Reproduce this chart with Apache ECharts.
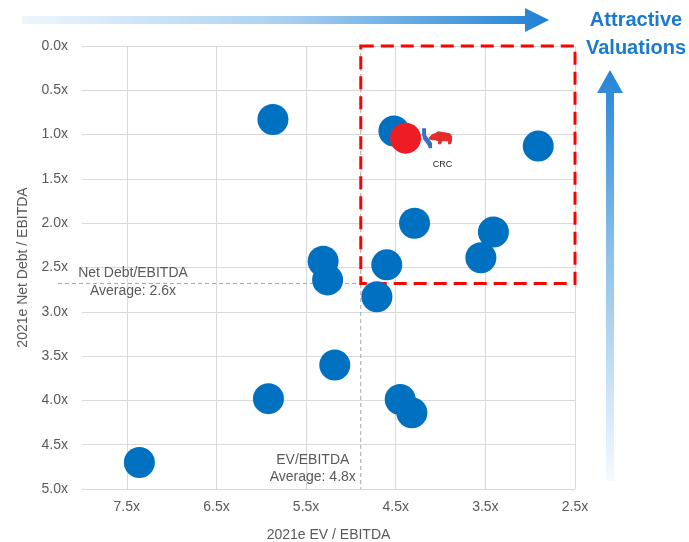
<!DOCTYPE html>
<html><head><meta charset="utf-8">
<script src="https://cdn.jsdelivr.net/npm/echarts/dist/echarts.min.js"></script>
<style>html,body{margin:0;padding:0;background:#fff}#c{width:689px;height:542px}</style>
</head><body><div id="c"></div>
<script>
// ---- data ----
const xTickLabels = [7.5, 6.5, 5.5, 4.5, 3.5, 2.5];
const peerEV = [5.87, 4.52, 2.91, 4.29, 3.41, 3.55, 5.31, 4.60, 5.26, 4.71, 5.18, 5.92, 4.45, 4.32, 7.36];
const peerND = [0.83, 0.96, 1.13, 2.00, 2.10, 2.39, 2.43, 2.47, 2.64, 2.83, 3.60, 3.98, 3.99, 4.14, 4.70];
const crcEV = [4.39];
const crcND = [1.04];
const crcName = 'CRC';
const avgEV = 4.89;
const avgND = 2.68;
const avgEVText = 'EV/EBITDA\nAverage: 4.8x';
const avgNDText = 'Net Debt/EBITDA\nAverage: 2.6x';
const xTitle = '2021e EV / EBITDA';
const yTitle = '2021e Net Debt / EBITDA';
const cornerText = 'Attractive\nValuations';

const FONT = '"Liberation Sans", Arial, sans-serif';
const GREY = '#595959';

const chart = echarts.init(document.getElementById('c'));
const isTick = v => xTickLabels.some(t => Math.abs(t - v) < 1e-6);

chart.setOption({
  animation: false,
  grid: { left: 82, right: 114, top: 46, bottom: 53, containLabel: false, outerBoundsMode: 'none' },
  xAxis: {
    type: 'value', inverse: true, min: 2.5, max: 8, interval: 0.5,
    axisLine: { show: false }, axisTick: { show: false }, splitLine: { show: false },
    axisLabel: { margin: 11, color: GREY, fontSize: 14, fontFamily: FONT,
      formatter: v => isTick(v) ? v.toFixed(1) + 'x' : '' },
    name: xTitle, nameLocation: 'middle', nameGap: 39,
    nameTextStyle: { color: GREY, fontSize: 14, fontFamily: FONT }
  },
  yAxis: {
    type: 'value', inverse: true, min: 0, max: 5, interval: 0.5,
    axisLine: { show: false }, axisTick: { show: false },
    splitLine: { show: true, lineStyle: { color: '#d9d9d9', width: 1 } },
    axisLabel: { margin: 14, color: GREY, fontSize: 14, fontFamily: FONT,
      formatter: v => v.toFixed(1) + 'x' },
    name: yTitle, nameLocation: 'middle', nameGap: 46,
    nameTextStyle: { color: GREY, fontSize: 14, fontFamily: FONT }
  },
  series: [
    { type: 'scatter', data: [], z: 1, silent: true,
      markLine: { z: 0, silent: true, symbol: ['none', 'none'], label: { show: false },
        lineStyle: { color: '#d9d9d9', type: 'solid', width: 1 },
        emphasis: { disabled: true },
        data: xTickLabels.map(v => ({ xAxis: v })) } },
    { type: 'scatter', data: [], z: 2, silent: true,
      markArea: { z: 2, silent: true, label: { show: false },
        itemStyle: { color: 'rgba(0,0,0,0)', borderColor: '#ff0000', borderWidth: 3, borderType: [13, 7] },
        emphasis: { disabled: true },
        data: [[{ coord: [avgEV, 0] }, { coord: [2.5, avgND] }]] } },
    { type: 'scatter', z: 3, symbolSize: 31, silent: true,
      itemStyle: { color: '#0070c0', opacity: 1 },
      data: peerEV.map((x, i) => [x, peerND[i]]) },
    { type: 'scatter', z: 4, symbolSize: 31, silent: true,
      itemStyle: { color: '#ee1c25', opacity: 1 },
      label: { show: true, position: 'inside', offset: [37, 26], formatter: crcName,
        fontSize: 9, color: '#222', fontFamily: FONT },
      data: crcEV.map((x, i) => [x, crcND[i]]) }
  ]
});

const pAvg = chart.convertToPixel({ gridIndex: 0 }, [avgEV, avgND]);
const pTop = chart.convertToPixel({ gridIndex: 0 }, [avgEV, 0]);
const pBot = chart.convertToPixel({ gridIndex: 0 }, [avgEV, 5]);
const pCrc = chart.convertToPixel({ gridIndex: 0 }, [crcEV[0], crcND[0]]);
const dashStyle = { stroke: '#a6a6a6', lineWidth: 1, lineDash: [4, 3] };
const txt = (text, x, y, lh) => ({ type: 'text', x, y, z: 6, silent: true,
  style: { text, fill: GREY, fontSize: 14, fontFamily: FONT, align: 'center', textAlign: 'center',
    verticalAlign: 'middle', textVerticalAlign: 'middle', lineHeight: lh } });

chart.setOption({
  graphic: [
    { type: 'line', z: 1, silent: true, shape: { x1: 58, y1: pAvg[1], x2: pAvg[0], y2: pAvg[1] }, style: dashStyle },
    { type: 'line', z: 1, silent: true, shape: { x1: pTop[0], y1: pTop[1], x2: pBot[0], y2: pBot[1] }, style: dashStyle },
    txt(avgNDText, 133, pAvg[1] - 1, 18),
    txt(avgEVText, pAvg[0] - 48, pBot[1] - 20, 17),
    // top arrow
    { type: 'polygon', z: 6, silent: true,
      shape: { points: [[22, 16], [525, 16], [525, 8], [549, 20], [525, 32], [525, 24], [22, 24]] },
      style: { fill: new echarts.graphic.LinearGradient(0, 0, 1, 0, [
        { offset: 0, color: '#eef6fd' }, { offset: 0.5, color: '#a9d0f0' }, { offset: 1, color: '#1f80d3' }]) } },
    // right arrow
    { type: 'polygon', z: 6, silent: true,
      shape: { points: [[610, 70], [623, 93], [614, 93], [614, 481], [606, 481], [606, 93], [597, 93]] },
      style: { fill: new echarts.graphic.LinearGradient(0, 0, 0, 1, [
        { offset: 0, color: '#2584d6' }, { offset: 0.45, color: '#8ec1ea' }, { offset: 1, color: '#f5faff' }]) } },
    { type: 'text', x: 636, y: 34.5, z: 6, silent: true,
      style: { text: cornerText, fill: '#1a7ad0', fontSize: 20, fontWeight: 'bold', fontFamily: FONT,
        align: 'center', textAlign: 'center', verticalAlign: 'middle', textVerticalAlign: 'middle', lineHeight: 27.6 } },
    // CRC logo (approximate)
    { type: 'group', x: pCrc[0] + 16.5, y: pCrc[1] - 10, z: 6, silent: true, children: [
      { type: 'polygon', z: 6, shape: { points: [[0, 0], [4, 0], [4, 7], [8, 12], [10, 15], [10, 20], [7, 20], [5, 16], [1, 11], [0, 6]] },
        style: { fill: '#3b6fc4' } },
      { type: 'polygon', z: 7, shape: { points: [[7, 9], [10, 6], [13, 5], [16, 3], [22, 4], [28, 5], [30, 8], [30, 12], [29, 16], [26, 16], [26, 13], [20, 13], [19, 16], [16, 16], [16, 13], [13, 12], [10, 12], [7, 11]] },
        style: { fill: '#e42c2a' } }
    ] }
  ]
});
</script></body></html>
